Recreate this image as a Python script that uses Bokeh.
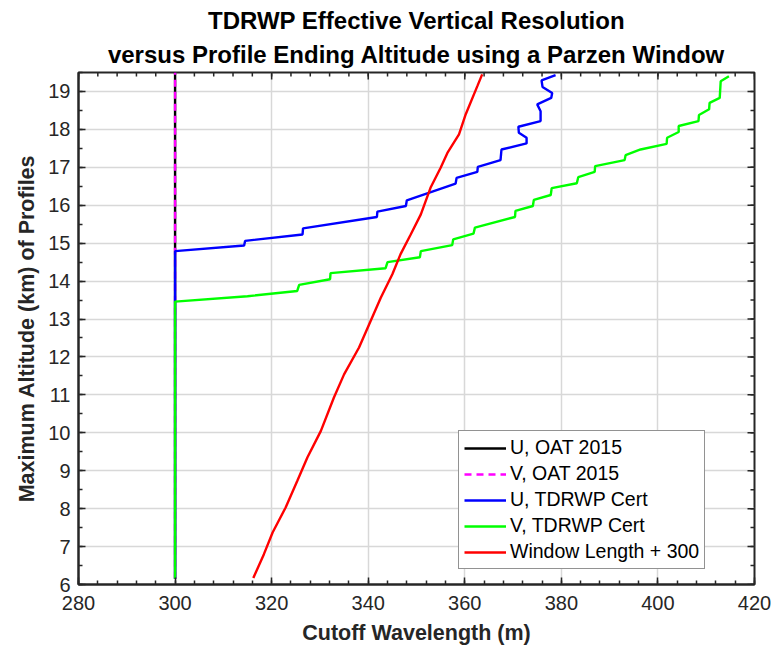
import math
from bokeh.plotting import figure
from bokeh.models import Range1d, FixedTicker, Legend, LegendItem, Title
from bokeh.embed import file_html
from bokeh.resources import INLINE

# ---------------- data ----------------
oat_alt = [6.15, 19.5]
u_oat = [300, 300]
v_oat = [300, 300]

u_cert_alt = [6.15, 14.79, 14.94, 15.06, 15.23, 15.39, 15.69, 15.83, 15.98, 16.13,
              16.57, 16.72, 16.88, 17.01, 17.19, 17.47, 17.63, 17.78, 17.91, 18.07,
              18.22, 18.48, 18.66, 18.83, 18.96, 19.12, 19.29, 19.43]
u_cert = [300.0, 300.0, 314.3, 314.5, 326.4, 326.5, 341.8, 341.9, 347.8, 348.0,
          358.1, 358.3, 362.6, 362.7, 367.4, 367.6, 372.8, 372.8, 371.2, 371.1,
          375.7, 375.7, 375.0, 377.9, 378.1, 376.1, 375.9, 378.8]

v_cert_alt = [6.15, 13.46, 13.60, 13.74, 13.90, 14.05, 14.21, 14.34, 14.50, 14.63,
              14.79, 14.95, 15.10, 15.25, 15.41, 15.69, 15.85, 15.98, 16.14, 16.27,
              16.45, 16.58, 16.74, 16.88, 17.03, 17.19, 17.32, 17.47, 17.62, 17.78,
              17.93, 18.09, 18.22, 18.38, 18.53, 18.70, 18.83, 19.27, 19.40]
v_cert = [300.0, 300.0, 315.0, 325.3, 325.7, 332.1, 332.2, 343.6, 344.0, 350.7,
          350.9, 357.4, 357.6, 361.8, 362.1, 370.4, 370.5, 374.1, 374.3, 377.8,
          378.0, 383.2, 383.5, 386.9, 387.0, 393.1, 393.3, 396.4, 401.8, 401.9,
          404.3, 404.3, 408.4, 408.5, 410.6, 410.7, 412.8, 413.0, 414.7]

win_alt = [6.17, 6.80, 7.37, 8.03, 8.73, 9.35, 10.05, 10.93, 11.54, 12.25, 12.95,
           13.56, 14.18, 14.71, 15.23, 15.76, 16.46, 16.99, 17.38, 17.87, 18.40,
           19.14, 19.45]
win_len = [316.2, 318.4, 320.2, 322.9, 325.3, 327.4, 330.2, 332.9, 335.0, 338.1, 340.5,
           342.6, 345.0, 346.7, 348.8, 350.9, 352.9, 355.0, 356.4, 358.8, 360.2,
           362.6, 363.6]

x_ticks = [280, 300, 320, 340, 360, 380, 400, 420]
y_ticks = [6, 7, 8, 9, 10, 11, 12, 13, 14, 15, 16, 17, 18, 19]
x_lim = (280, 420)
y_lim = (6, 19.5)

title_line1 = "TDRWP Effective Vertical Resolution"
title_line2 = "versus Profile Ending Altitude using a Parzen Window"
x_label = "Cutoff Wavelength (m)"
y_label = "Maximum Altitude (km) of Profiles"
labels = ["U, OAT 2015", "V, OAT 2015", "U, TDRWP Cert", "V, TDRWP Cert", "Window Length + 300"]

# ---------------- figure ----------------
FONT = "Liberation Sans"
AX = "#262626"
LW = 2.4

p = figure(width=780, height=647, x_range=Range1d(*x_lim), y_range=Range1d(*y_lim),
           output_backend="svg", toolbar_location=None, title=None,
           min_border_left=78, min_border_right=26, min_border_top=72, min_border_bottom=63)
p.outline_line_color = AX
p.outline_line_width = 2
p.background_fill_color = "white"

for txt, st in [(title_line2, 10), (title_line1, 0)]:
    p.add_layout(Title(text=txt, align="center", text_font=FONT, text_font_size="24px",
                       text_font_style="bold", text_color="black", standoff=st), "above")

x_minor = [v for v in range(280, 421, 4)]
y_minor = [6 + 0.5 * i for i in range(28)]
xt = FixedTicker(ticks=x_ticks, minor_ticks=x_minor)
yt = FixedTicker(ticks=y_ticks, minor_ticks=y_minor)

bx = p.xaxis[0]
ly = p.yaxis[0]
bx.ticker = xt
ly.ticker = yt
for ax in [bx, ly]:
    ax.axis_line_color = AX
    ax.axis_line_width = 2
    ax.major_tick_in = 7
    ax.major_tick_out = 0
    ax.minor_tick_in = 4
    ax.minor_tick_out = 0
    ax.major_tick_line_color = AX
    ax.minor_tick_line_color = AX
    ax.major_tick_line_width = 1.5
    ax.minor_tick_line_width = 1.5
    ax.major_label_text_font = FONT
    ax.major_label_text_font_size = "20px"
    ax.major_label_text_color = AX
    ax.axis_label_text_font = FONT
    ax.axis_label_text_font_size = "21.5px"
    ax.axis_label_text_font_style = "bold"
    ax.axis_label_text_color = AX

bx.major_label_standoff = 11
ly.major_label_standoff = 8
bx.axis_label = x_label
ly.axis_label = y_label
bx.axis_label_standoff = 8
ly.axis_label_standoff = 6

p.xgrid.ticker = xt
p.ygrid.ticker = yt
for g in [p.xgrid, p.ygrid]:
    g.grid_line_color = "#d8d8d8"
    g.grid_line_width = 1.5

# inward tick marks on the top and right edges of the box (clipped to the frame)
p.scatter(x_ticks, [y_lim[1]] * len(x_ticks), marker="dash", size=14, angle=math.pi / 2,
          line_color=AX, line_width=1.5)
p.scatter(x_minor, [y_lim[1]] * len(x_minor), marker="dash", size=8, angle=math.pi / 2,
          line_color=AX, line_width=1.5)
p.scatter([x_lim[1]] * len(y_ticks), y_ticks, marker="dash", size=14,
          line_color=AX, line_width=1.5)
p.scatter([x_lim[1]] * len(y_minor), y_minor, marker="dash", size=8,
          line_color=AX, line_width=1.5)

r1 = p.line(u_oat, oat_alt, line_color="black", line_width=LW)
r2 = p.line(v_oat, oat_alt, line_color="#ff00ff", line_width=LW, line_dash="7 5")
r3 = p.line(u_cert, u_cert_alt, line_color="#0000ff", line_width=LW)
r4 = p.line(v_cert, v_cert_alt, line_color="#00ff00", line_width=LW)
r5 = p.line(win_len, win_alt, line_color="#ff0000", line_width=LW)

legend = Legend(items=[LegendItem(label=l, renderers=[r]) for l, r in zip(labels, [r1, r2, r3, r4, r5])],
                location=(380, 15))
legend.label_text_font = FONT
legend.label_text_font_size = "19.5px"
legend.label_text_color = "black"
legend.glyph_width = 42
legend.glyph_height = 20
legend.label_height = 20
legend.label_standoff = 4
legend.spacing = 3
legend.padding = 5
legend.margin = 0
legend.border_line_color = AX
legend.border_line_width = 1
legend.background_fill_color = "white"
legend.background_fill_alpha = 1
p.add_layout(legend, "center")

open("out.html", "w").write(file_html(p, INLINE))
